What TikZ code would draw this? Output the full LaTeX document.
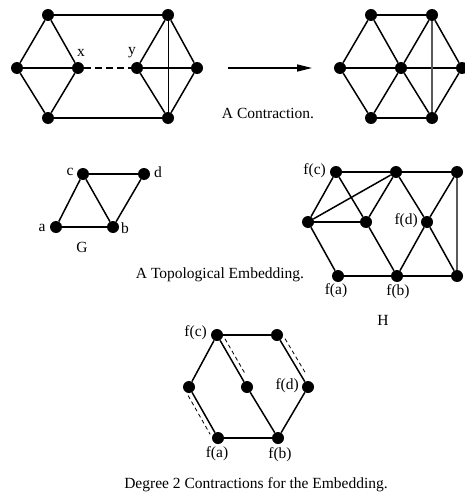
\documentclass[tikz,border=0pt]{standalone}
\usepackage{fontspec}
\setmainfont{Liberation Serif}
\usetikzlibrary{calc,arrows.meta}
\begin{document}
\begin{tikzpicture}[x=1pt,y=-1pt,
 dot/.style={circle,fill=black,inner sep=0pt,minimum size=12pt},
 edge/.style={line width=1.5pt},
 thinedge/.style={line width=1pt},
 grayedge/.style={line width=1.2pt,draw=black!65},
 lbl/.style={font=\fontsize{15.5}{18}\selectfont,inner sep=0pt},
 dashedge/.style={line width=1.5pt,dash pattern=on 7pt off 4pt},
 para/.style={line width=0.8pt,dash pattern=on 4pt off 3pt}]
\useasboundingbox (0,0) rectangle (465,503);
% ---------- graph before contraction ----------
\node[dot] (a1) at (48,15) {};
\node[dot] (a2) at (168,15) {};
\node[dot] (a3) at (17,68) {};
\node[dot] (x) at (78,68) {};
\node[dot] (y) at (137,68) {};
\node[dot] (a6) at (197,68) {};
\node[dot] (a7) at (48,118) {};
\node[dot] (a8) at (168,118) {};
\draw[edge] (a1) -- (a2);
\draw[edge] (a7) -- (a8);
\draw[edge] (a3) -- (a1);
\draw[edge] (a3) -- (a7);
\draw[edge] (a3) -- (x);
\draw[edge] (a1) -- (x);
\draw[edge] (a7) -- (x);
\draw[dashedge] (x) -- (y);
\draw[edge] (y) -- (a2);
\draw[edge] (y) -- (a8);
\draw[edge] (y) -- (a6);
\draw[edge] (a2) -- (a6);
\draw[edge] (a8) -- (a6);
\draw[thinedge] (a2) -- (a8);
\node[lbl] (lx) at (81,53) {x};
\node[lbl] (ly) at (132,53) {y};
% arrow
\coordinate (ar1) at (228,68);
\coordinate (ar2) at (312,68);
\draw[edge,-{Triangle[length=15pt,width=7pt]}] (ar1) -- (ar2);
\node[lbl] (cap1) at (268,113) {A Contraction.};
% ---------- graph after contraction ----------
\node[dot] (b1) at (371,15) {};
\node[dot] (b2) at (432,15) {};
\node[dot] (b3) at (340,68) {};
\node[dot] (b4) at (401,68) {};
\node[dot] (b5) at (462,68) {};
\node[dot] (b6) at (371,118) {};
\node[dot] (b7) at (432,118) {};
\draw[edge] (b1) -- (b2);
\draw[edge] (b6) -- (b7);
\draw[edge] (b3) -- (b1);
\draw[edge] (b3) -- (b6);
\draw[edge] (b3) -- (b4);
\draw[edge] (b4) -- (b5);
\draw[edge] (b1) -- (b4);
\draw[edge] (b6) -- (b4);
\draw[edge] (b4) -- (b2);
\draw[edge] (b4) -- (b7);
\draw[edge] (b2) -- (b5);
\draw[edge] (b7) -- (b5);
\draw[grayedge] (b2) -- (b7);
% ---------- G ----------
\node[dot] (c) at (83,174) {};
\node[dot] (d) at (144,174) {};
\node[dot] (a) at (56,227) {};
\node[dot] (b) at (113,227) {};
\draw[edge] (c) -- (d);
\draw[edge] (a) -- (b);
\draw[edge] (a) -- (c);
\draw[edge] (c) -- (b);
\draw[edge] (d) -- (b);
\node[lbl] (lc) at (70,172) {c};
\node[lbl] (ld) at (158,172) {d};
\node[lbl] (la) at (42,228) {a};
\node[lbl] (lb) at (125,228) {b};
\node[lbl] (lG) at (82,247) {G};
\node[lbl] (cap2) at (220,275) {A Topological Embedding.};
% ---------- H ----------
\node[dot] (h1) at (336,172) {};
\node[dot] (h2) at (396,172) {};
\node[dot] (h3) at (457,172) {};
\node[dot] (h4) at (308,222) {};
\node[dot] (h5) at (366,222) {};
\node[dot] (h6) at (427,222) {};
\node[dot] (h7) at (338,276) {};
\node[dot] (h8) at (397,276) {};
\node[dot] (h9) at (457,276) {};
\draw[edge] (h1) -- (h2);
\draw[edge] (h2) -- (h3);
\draw[grayedge] (h3) -- (h9);
\draw[edge] (h7) -- (h8);
\draw[edge] (h8) -- (h9);
\draw[edge] (h4) -- (h1);
\draw[edge] (h4) -- (h2);
\draw[edge] (h4) -- (h5);
\draw[edge] (h1) -- (h5);
\draw[edge] (h5) -- (h2);
\draw[edge] (h5) -- (h8);
\draw[edge] (h4) -- (h7);
\draw[edge] (h2) -- (h6);
\draw[edge] (h6) -- (h8);
\draw[edge] (h6) -- (h3);
\draw[edge] (h6) -- (h9);
\node[lbl,anchor=east] (lh1) at (326,171) {f(c)};
\node[lbl,anchor=east] (lh6) at (418,221) {f(d)};
\node[lbl] (lh7) at (336,291) {f(a)};
\node[lbl] (lh8) at (398,292) {f(b)};
\node[lbl] (lH) at (383,320) {H};
% ---------- contractions ----------
\node[dot] (e1) at (217,335) {};
\node[dot] (e2) at (277,335) {};
\node[dot] (e3) at (189,387) {};
\node[dot] (e4) at (247,387) {};
\node[dot] (e5) at (308,387) {};
\node[dot] (e6) at (218,438) {};
\node[dot] (e7) at (278,438) {};
\draw[edge] (e1) -- (e2);
\draw[edge] (e1) -- (e3);
\draw[edge] (e3) -- (e6);
\draw[edge] (e6) -- (e7);
\draw[edge] (e1) -- (e4);
\draw[edge] (e4) -- (e7);
\draw[edge] (e2) -- (e5);
\draw[edge] (e5) -- (e7);
\draw[para] ($(e3)!0.12!(e6)!5pt!-90:(e6)$) -- ($(e3)!0.88!(e6)!5pt!90:(e3)$);
\draw[para] ($(e1)!0.12!(e4)!5pt!90:(e4)$) -- ($(e1)!0.8!(e4)!5pt!-90:(e1)$);
\draw[para] ($(e2)!0.12!(e5)!5pt!90:(e5)$) -- ($(e2)!0.8!(e5)!5pt!-90:(e2)$);
\node[lbl,anchor=east] (le1) at (207,333) {f(c)};
\node[lbl,anchor=east] (le5) at (299,386) {f(d)};
\node[lbl] (le6) at (217,454) {f(a)};
\node[lbl] (le7) at (280,455) {f(b)};
\node[lbl] (cap3) at (256,485) {Degree 2 Contractions for the Embedding.};
\end{tikzpicture}
\end{document}
